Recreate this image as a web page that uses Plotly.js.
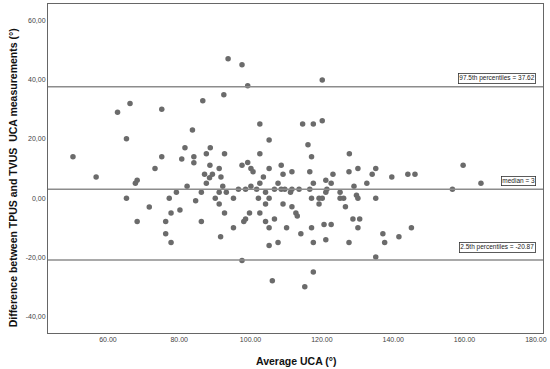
<!DOCTYPE html>
<html>
<head>
<meta charset="utf-8">
<script src="https://cdn.plot.ly/plotly-3.0.1.min.js"></script>
<style>html,body{margin:0;padding:0;background:#fff;}#chart{width:550px;height:369px;}</style>
</head>
<body>
<div id="chart"></div>
<script>
// Average UCA (°)
const avgUCA = [
 50.2,56.7,62.7,65.2,66.2,65.2,67.7,68.2,68.2,71.6,
 73.2,75.1,75.1,76.2,76.2,77.2,77.7,77.7,79.2,80.2,
 80.7,81.6,82.2,83.7,84.1,84.1,84.6,86.2,86.2,86.6,
 87.1,87.6,87.6,88.6,88.7,88.5,89.3,90.1,91.2,91.2,
 91.2,91.6,91.7,92.2,92.5,92.7,92.7,93.2,93.7,95.2,
 95.2,96.6,97.6,97.6,97.6,98.1,98.6,98.6,99.2,99.2,
 99.7,100.1,100.1,100.7,101.7,102.2,102.6,102.6,102.6,102.6,
 103.6,104.2,104.2,104.2,105.2,105.2,105.2,105.2,105.2,106.1,
 106.7,106.7,107.7,107.7,108.6,108.6,109.1,109.1,109.6,110.1,
 111.2,111.6,111.6,111.6,112.7,113.1,113.6,114.1,114.6,115.2,
 116.1,116.6,116.6,117.1,117.1,117.1,117.6,117.6,117.6,117.6,
 119.2,119.2,120.1,120.1,120.1,120.6,121.1,121.1,121.1,121.4,
 122.6,122.6,123.1,125.1,125.1,126.1,126.6,127.6,127.6,127.7,
 128.7,129.0,129.7,130.1,130.1,130.1,130.6,132.6,134.1,135.1,
 135.1,135.1,137.1,137.6,139.6,141.6,144.1,145.1,146.1,156.6,
 159.6,164.6
];
// Difference between TPUS and TVUS UCA measurements (°)
const diffUCA = [
 14.0,7.1,29.0,20.0,31.9,0.0,5.0,6.0,-7.9,-3.0,
 10.0,30.0,14.0,-7.9,-12.0,0.0,-5.0,-15.0,2.0,-4.0,
 13.2,17.0,4.0,23.0,14.0,11.9,-0.9,2.0,-7.9,32.9,
 8.1,15.0,5.0,11.1,17.0,6.9,8.1,0.0,10.0,2.0,
 -2.0,-13.0,7.1,4.0,34.9,15.0,-5.0,2.0,47.0,0.0,
 -10.0,3.0,45.0,11.1,-21.0,-7.9,3.0,-7.0,37.9,12.0,
 -5.0,10.0,4.0,8.9,3.0,0.0,25.0,15.0,5.0,-5.0,
 7.1,2.0,-2.0,-7.9,19.6,10.0,0.0,-10.0,-16.0,-27.9,
 3.0,-7.0,5.0,-15.0,11.1,3.0,8.1,-2.0,3.0,-10.0,
 2.0,8.9,3.0,-2.9,-5.0,-6.0,3.0,-12.0,25.0,-29.9,
 18.0,8.9,3.0,14.0,0.0,-10.0,-24.9,25.0,5.0,-15.0,
 0.0,-2.0,39.9,26.1,0.0,-8.9,6.0,2.0,-14.0,3.0,
 5.0,-8.9,8.1,2.0,0.0,0.0,-2.9,8.9,-15.0,15.0,
 -7.0,4.0,1.0,10.0,0.0,-10.0,-7.0,5.0,8.1,10.0,
 0.0,-19.9,-12.0,-15.0,7.1,-13.0,8.1,-10.0,8.1,3.0,
 11.1,5.0
];
const upperPct = 37.62;
const medianVal = 3;
const lowerPct = -20.87;
const refValues = [upperPct, medianVal, lowerPct];
const refLabels = ['97.5th percentiles = 37.62', 'median = 3', '2.5th percentiles = -20.87'];
const xTickVals = [60, 80, 100, 120, 140, 160, 180];
const xTickText = ['60.00', '80.00', '100.00', '120.00', '140.00', '160.00', '180.00'];
const yTickVals = [-40, -20, 0, 20, 40, 60];
const yTickText = ['-40,00', '-20,00', '0,00', '20,00', '40,00', '60,00'];

const labelShift = [3, 3, 7];

const shapes = refValues.map(v => ({
  type: 'line', xref: 'paper', x0: 0, x1: 1, yref: 'y', y0: v, y1: v,
  line: {color: '#8c8c8c', width: 1.5}
}));

const annotations = refValues.map((v, i) => ({
  xref: 'x', x: 180, xanchor: 'right', yref: 'y', y: v, yanchor: 'bottom', yshift: labelShift[i],
  text: refLabels[i], showarrow: false,
  font: {family: 'Liberation Sans, Arial, sans-serif', size: 6.5, color: '#222'},
  bordercolor: '#333', borderwidth: 0.8, borderpad: 0.5, bgcolor: '#fff'
}));

annotations.push({
  xref: 'paper', x: 0, xshift: -35, xanchor: 'center', yref: 'paper', y: 0.47, yanchor: 'middle',
  textangle: -90, showarrow: false,
  text: '<b>Difference between TPUS and TVUS  UCA measurements (°)</b>',
  font: {family: 'Liberation Sans, Arial, sans-serif', size: 10.5, color: '#111'}
});
annotations.push({
  xref: 'paper', x: 0.5, xanchor: 'center', yref: 'paper', y: 0, yshift: -28, yanchor: 'middle',
  showarrow: false,
  text: '<b>Average UCA (°)</b>',
  font: {family: 'Liberation Sans, Arial, sans-serif', size: 10.5, color: '#111'}
});

const trace = {
  x: avgUCA, y: diffUCA, type: 'scatter', mode: 'markers',
  marker: {color: '#6b6b6b', size: 5.5},
  hoverinfo: 'skip'
};

const layout = {
  width: 550, height: 369,
  margin: {l: 48, r: 7, t: 4, b: 36},
  paper_bgcolor: '#fff', plot_bgcolor: '#fff',
  showlegend: false,
  xaxis: {
    range: [43.2, 182], tickvals: xTickVals, ticktext: xTickText,
    showgrid: false, zeroline: false, showline: true, mirror: true,
    linecolor: '#666', linewidth: 1, ticks: '',
    tickfont: {family: 'Liberation Sans, Arial, sans-serif', size: 7, color: '#444'}
  },
  yaxis: {
    range: [-45.5, 65.5], tickvals: yTickVals, ticktext: yTickText,
    showgrid: false, zeroline: false, showline: true, mirror: true,
    linecolor: '#666', linewidth: 1, ticks: '',
    tickfont: {family: 'Liberation Sans, Arial, sans-serif', size: 7, color: '#444'}
  },
  shapes: shapes,
  annotations: annotations
};

Plotly.newPlot('chart', [trace], layout, {displayModeBar: false, staticPlot: true});
</script>
</body>
</html>
